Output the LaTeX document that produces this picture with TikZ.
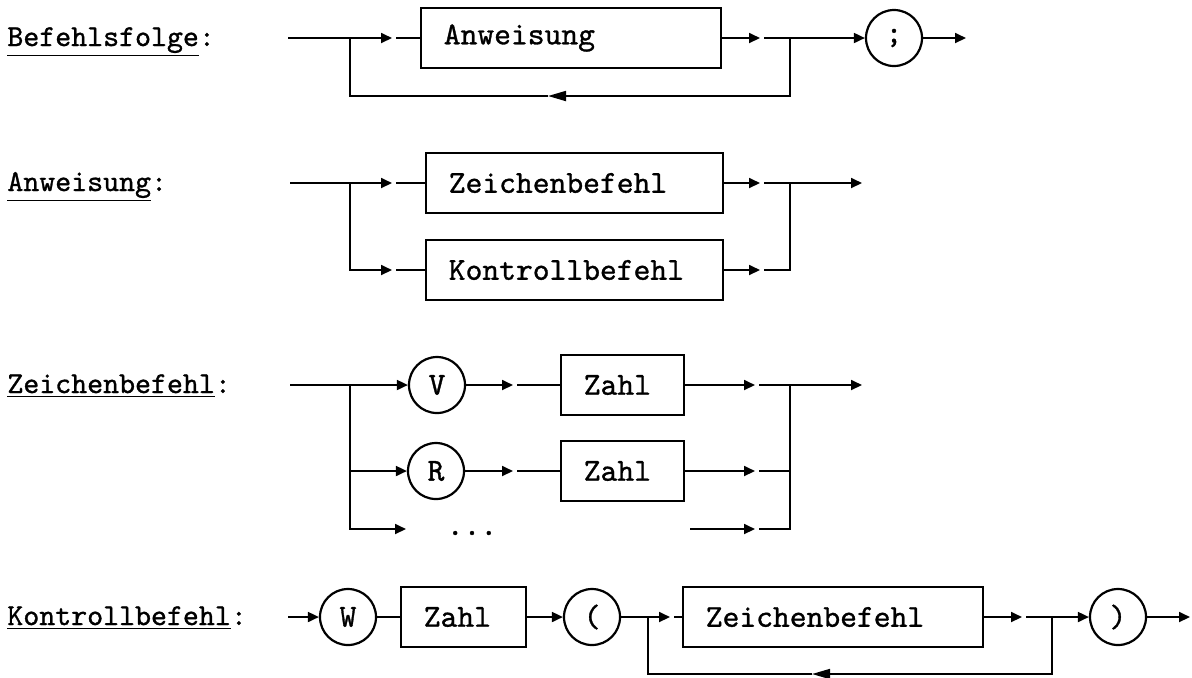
\documentclass[tikz,border=0pt]{standalone}
\usepackage{fontspec}
\newfontfamily\mono{lmmono10-regular.otf}[FakeBold=1.0]
\usetikzlibrary{arrows.meta}

\begin{document}
\begin{tikzpicture}[x=0.5pt,y=-0.5pt,
  ln/.style={line width=0.9pt},
  arr/.style={ln,-{Triangle[length=5.5pt,width=5pt]}},
  back/.style={ln,-{Triangle[length=9pt,width=5pt]}},
  lbl/.style={anchor=base west,inner sep=0pt,font=\mono\fontsize{15.2}{18}\selectfont},
  box/.style={draw,line width=0.8pt,anchor=west,minimum height=30pt,inner xsep=11.5pt,
              text width=#1,align=left,font=\mono\fontsize{16}{18}\selectfont},
  term/.style={draw,circle,line width=1.1pt,minimum size=28pt,inner sep=0pt,
               font=\mono\fontsize{16}{18}\selectfont},
]
\useasboundingbox (0,0) rectangle (1192,677);

% ---------------- Befehlsfolge ----------------
\node[lbl] (L1) at (7,46) {\underline{Befehlsfolge}:};
\coordinate (s1) at (288,38);
\coordinate (b1) at (350,38);
\coordinate (t1) at (392,38);
\coordinate (u1) at (396,38);
\node[box=127pt] (A1) at (420,38) {Anweisung};
\coordinate (t1b) at (760,38);
\coordinate (u1b) at (764,38);
\coordinate (c1) at (790,38);
\node[term] (semi) at (894,38) {;};
\coordinate (e1) at (966,38);
\coordinate (r1a) at (790,96);
\coordinate (r1m) at (548,96);
\coordinate (r1b) at (350,96);
\draw[ln] (s1) -- (b1);
\draw[arr] (b1) -- (t1);
\draw[ln] (u1) -- (A1.west);
\draw[arr] (A1.east) -- (t1b);
\draw[ln] (u1b) -- (c1);
\draw[arr] (c1) -- (semi.west);
\draw[arr] (semi.east) -- (e1);
\draw[back] (c1) -- (r1a) -- (r1m);
\draw[ln] (r1m) -- (r1b) -- (b1);

% ---------------- Anweisung ----------------
\node[lbl] (L2) at (7,191) {\underline{Anweisung}:};
\coordinate (s2) at (290,183);
\coordinate (b2) at (350,183);
\coordinate (t2) at (392,183);
\coordinate (u2) at (396,183);
\node[box=125.5pt] (Z2) at (425,183) {Zeichenbefehl};
\coordinate (t2b) at (760,183);
\coordinate (u2b) at (764,183);
\coordinate (c2) at (790,183);
\coordinate (e2) at (862,183);
\coordinate (b2d) at (350,270);
\coordinate (t2d) at (392,270);
\coordinate (u2d) at (396,270);
\node[box=125.5pt] (K2) at (425,270) {Kontrollbefehl};
\coordinate (t2e) at (760,270);
\coordinate (u2e) at (764,270);
\coordinate (c2d) at (790,270);
\draw[ln] (s2) -- (b2);
\draw[arr] (b2) -- (t2);
\draw[ln] (u2) -- (Z2.west);
\draw[arr] (Z2.east) -- (t2b);
\draw[ln] (u2b) -- (c2);
\draw[arr] (c2) -- (e2);
\draw[arr] (b2) -- (b2d) -- (t2d);
\draw[ln] (u2d) -- (K2.west);
\draw[arr] (K2.east) -- (t2e);
\draw[ln] (u2e) -- (c2d) -- (c2);

% ---------------- Zeichenbefehl ----------------
\node[lbl] (L3) at (7,393) {\underline{Zeichenbefehl}:};
\coordinate (s3) at (290,385);
\coordinate (b3) at (350,385);
\node[term] (V) at (437,385) {V};
\coordinate (t3) at (513,385);
\coordinate (u3) at (517,385);
\node[box=38.5pt] (N3) at (560,385) {Zahl};
\coordinate (t3b) at (755,385);
\coordinate (u3b) at (759,385);
\coordinate (c3) at (790,385);
\coordinate (e3) at (862,385);
\coordinate (b3r) at (350,471);
\node[term] (R) at (436,471) {R};
\coordinate (t3r) at (513,471);
\coordinate (u3r) at (517,471);
\node[box=38.5pt] (N3r) at (560,471) {Zahl};
\coordinate (t3rb) at (755,471);
\coordinate (u3rb) at (759,471);
\coordinate (c3r) at (790,471);
\coordinate (b3d) at (350,529);
\coordinate (t3d) at (406,529);
\node[inner sep=0pt,font=\mono\fontsize{16}{18}\selectfont] (dots) at (472,533) {...};
\coordinate (s3d) at (690,529);
\coordinate (t3db) at (755,529);
\coordinate (u3db) at (759,529);
\coordinate (c3d) at (790,529);
\draw[ln] (s3) -- (b3);
\draw[arr] (b3) -- (V.west);
\draw[arr] (V.east) -- (t3);
\draw[ln] (u3) -- (N3.west);
\draw[arr] (N3.east) -- (t3b);
\draw[ln] (u3b) -- (c3);
\draw[arr] (c3) -- (e3);
\draw[ln] (b3) -- (b3r);
\draw[arr] (b3r) -- (R.west);
\draw[arr] (R.east) -- (t3r);
\draw[ln] (u3r) -- (N3r.west);
\draw[arr] (N3r.east) -- (t3rb);
\draw[ln] (u3rb) -- (c3r);
\draw[arr] (b3r) -- (b3d) -- (t3d);
\draw[arr] (s3d) -- (t3db);
\draw[ln] (u3db) -- (c3d) -- (c3);

% ---------------- Kontrollbefehl ----------------
\node[lbl] (L4) at (7,625) {\underline{Kontrollbefehl}:};
\coordinate (s4) at (288,617);
\node[term] (W) at (348,617) {W};
\node[box=39.5pt] (N4) at (400,617) {Zahl};
\node[term] (po) at (592,617) {(};
\coordinate (b4) at (648,617);
\coordinate (t4) at (670,617);
\coordinate (u4) at (674,617);
\node[box=127pt] (Z4) at (682,617) {Zeichenbefehl};
\coordinate (t4b) at (1022,617);
\coordinate (u4b) at (1026,617);
\coordinate (c4) at (1052,617);
\node[term] (pc) at (1118,617) {)};
\coordinate (e4) at (1190,617);
\coordinate (r4a) at (1052,674);
\coordinate (r4m) at (812,674);
\coordinate (r4b) at (648,674);
\draw[arr] (s4) -- (W.west);
\draw[ln] (W.east) -- (N4.west);
\draw[arr] (N4.east) -- (po.west);
\draw[ln] (po.east) -- (b4);
\draw[arr] (b4) -- (t4);
\draw[ln] (u4) -- (Z4.west);
\draw[arr] (Z4.east) -- (t4b);
\draw[ln] (u4b) -- (c4);
\draw[arr] (c4) -- (pc.west);
\draw[arr] (pc.east) -- (e4);
\draw[back] (c4) -- (r4a) -- (r4m);
\draw[ln] (r4m) -- (r4b) -- (b4);
\end{tikzpicture}
\end{document}
